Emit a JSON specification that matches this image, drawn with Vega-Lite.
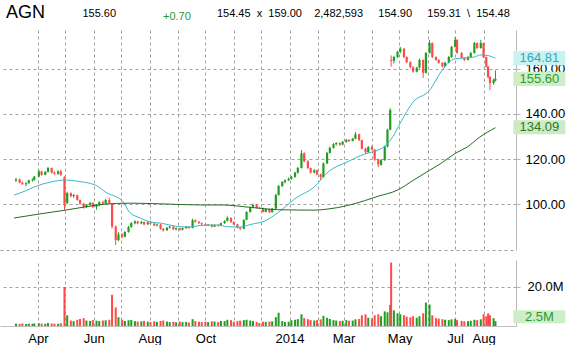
{
  "$schema": "https://vega.github.io/schema/vega-lite/v6.json",
  "background": "white",
  "padding": {"left": 0, "top": 3, "right": 0, "bottom": 0},
  "title": {
    "text": "AGN",
    "subtitle": "\u200b\u00a0\u00a0\u00a0\u00a0\u00a0\u00a0\u00a0\u00a0\u00a0\u00a0\u00a0\u00a0\u00a0\u00a0\u00a0\u00a0\u00a0\u00a0\u00a0\u00a0\u00a0\u00a0\u00a0\u00a0\u00a0155.60\u00a0\u00a0\u00a0\u00a0\u00a0\u00a0\u00a0\u00a0\u00a0\u00a0\u00a0\u00a0\u00a0\u00a0\u00a0\u00a0\u00a0\u00a0\u00a0\u00a0\u00a0\u00a0\u00a0\u00a0\u00a0\u00a0\u00a0\u00a0\u00a0\u00a0\u00a0\u00a0\u00a0154.45\u00a0\u00a0x\u00a0\u00a0159.00\u00a0\u00a0\u00a0\u00a02,482,593\u00a0\u00a0\u00a0\u00a0\u00a0154.90\u00a0\u00a0\u00a0\u00a0\u00a0159.31\u00a0\u00a0\\\u00a0\u00a0154.48",
    "anchor": "start",
    "frame": "group",
    "font": "Liberation Sans",
    "fontSize": 18,
    "fontWeight": "normal",
    "color": "#000000",
    "subtitleFont": "Liberation Sans",
    "subtitleFontSize": 11,
    "subtitleColor": "#000000",
    "subtitlePadding": -13.5,
    "offset": -10.5,
    "dx": 6
  },
  "config": {
    "view": {"stroke": null},
    "axis": {"labelFont": "Liberation Sans", "labelFontSize": 13, "labelColor": "#000000", "gridColor": "#a0a0a0", "gridDash": [3, 3], "gridWidth": 1}
  },
  "datasets": {
    "candles": [
      {"d":"2013-03-08","o":110.5,"h":111.6,"l":109.8,"c":111.0,"v":1.2},
      {"d":"2013-03-12","o":111.0,"h":111.3,"l":109.2,"c":109.5,"v":1.1},
      {"d":"2013-03-15","o":109.5,"h":110.0,"l":108.6,"c":108.8,"v":1.3},
      {"d":"2013-03-19","o":108.8,"h":109.6,"l":107.9,"c":109.3,"v":1.0},
      {"d":"2013-03-22","o":109.3,"h":110.8,"l":109.0,"c":110.5,"v":1.2},
      {"d":"2013-03-26","o":110.5,"h":111.4,"l":110.0,"c":110.8,"v":1.1},
      {"d":"2013-03-28","o":110.8,"h":112.5,"l":110.4,"c":112.2,"v":1.3},
      {"d":"2013-04-02","o":112.2,"h":115.2,"l":112.0,"c":114.5,"v":1.4},
      {"d":"2013-04-05","o":114.5,"h":114.8,"l":112.6,"c":113.0,"v":1.2},
      {"d":"2013-04-09","o":113.0,"h":114.6,"l":112.8,"c":114.3,"v":1.1},
      {"d":"2013-04-12","o":114.3,"h":116.5,"l":114.0,"c":116.0,"v":1.5},
      {"d":"2013-04-16","o":116.0,"h":116.2,"l":113.5,"c":114.0,"v":1.3},
      {"d":"2013-04-19","o":114.0,"h":114.6,"l":113.0,"c":113.4,"v":1.2},
      {"d":"2013-04-23","o":113.4,"h":115.0,"l":113.0,"c":114.5,"v":1.1},
      {"d":"2013-04-26","o":114.5,"h":115.3,"l":112.5,"c":113.0,"v":1.4},
      {"d":"2013-04-30","o":112.0,"h":112.3,"l":97.3,"c":99.5,"v":20.0},
      {"d":"2013-05-03","o":100.5,"h":105.5,"l":100.0,"c":104.8,"v":5.5},
      {"d":"2013-05-07","o":104.8,"h":105.2,"l":103.0,"c":103.5,"v":2.8},
      {"d":"2013-05-10","o":103.5,"h":104.5,"l":102.8,"c":104.0,"v":2.5},
      {"d":"2013-05-14","o":104.0,"h":104.2,"l":101.5,"c":101.8,"v":3.2},
      {"d":"2013-05-17","o":101.8,"h":102.0,"l":99.8,"c":100.2,"v":3.6},
      {"d":"2013-05-21","o":100.2,"h":100.5,"l":98.0,"c":98.7,"v":4.0},
      {"d":"2013-05-24","o":98.7,"h":100.0,"l":98.2,"c":99.8,"v":2.8},
      {"d":"2013-05-28","o":99.8,"h":101.0,"l":99.3,"c":100.5,"v":2.6},
      {"d":"2013-05-31","o":100.5,"h":100.8,"l":98.2,"c":98.8,"v":3.0},
      {"d":"2013-06-04","o":98.8,"h":100.0,"l":97.5,"c":99.6,"v":2.7},
      {"d":"2013-06-07","o":99.6,"h":101.2,"l":99.0,"c":100.8,"v":2.5},
      {"d":"2013-06-11","o":100.8,"h":101.5,"l":99.8,"c":100.2,"v":2.8},
      {"d":"2013-06-14","o":100.2,"h":102.3,"l":100.0,"c":101.8,"v":2.9},
      {"d":"2013-06-18","o":101.8,"h":102.8,"l":100.0,"c":100.4,"v":3.2},
      {"d":"2013-06-21","o":100.0,"h":100.5,"l":89.0,"c":90.0,"v":16.0},
      {"d":"2013-06-25","o":90.0,"h":90.5,"l":81.8,"c":84.0,"v":9.5},
      {"d":"2013-06-28","o":84.0,"h":87.5,"l":83.5,"c":86.5,"v":4.5},
      {"d":"2013-07-02","o":86.5,"h":87.2,"l":84.8,"c":85.5,"v":3.2},
      {"d":"2013-07-05","o":85.5,"h":88.0,"l":85.2,"c":87.6,"v":2.6},
      {"d":"2013-07-09","o":87.6,"h":90.2,"l":87.3,"c":89.8,"v":3.0},
      {"d":"2013-07-12","o":89.8,"h":92.0,"l":89.5,"c":91.5,"v":3.1},
      {"d":"2013-07-16","o":91.5,"h":92.8,"l":91.0,"c":92.3,"v":2.5},
      {"d":"2013-07-19","o":92.3,"h":92.6,"l":91.0,"c":91.4,"v":2.3},
      {"d":"2013-07-23","o":91.4,"h":92.6,"l":91.0,"c":92.0,"v":2.4},
      {"d":"2013-07-26","o":92.0,"h":92.3,"l":90.6,"c":91.0,"v":2.6},
      {"d":"2013-07-30","o":91.0,"h":92.4,"l":90.8,"c":91.8,"v":2.2},
      {"d":"2013-08-02","o":91.8,"h":92.5,"l":91.0,"c":91.3,"v":2.0},
      {"d":"2013-08-06","o":91.3,"h":91.6,"l":90.2,"c":90.5,"v":2.4},
      {"d":"2013-08-09","o":90.5,"h":91.3,"l":90.0,"c":90.9,"v":2.1},
      {"d":"2013-08-13","o":90.9,"h":91.2,"l":88.6,"c":89.0,"v":2.6},
      {"d":"2013-08-16","o":89.0,"h":89.4,"l":87.8,"c":88.4,"v":2.8},
      {"d":"2013-08-20","o":88.4,"h":89.8,"l":88.0,"c":89.5,"v":2.3},
      {"d":"2013-08-23","o":89.5,"h":90.3,"l":89.1,"c":90.0,"v":2.0},
      {"d":"2013-08-27","o":90.0,"h":90.1,"l":88.5,"c":88.8,"v":2.2},
      {"d":"2013-08-30","o":88.8,"h":89.6,"l":88.3,"c":89.3,"v":1.9},
      {"d":"2013-09-03","o":89.3,"h":89.5,"l":88.2,"c":88.6,"v":2.3},
      {"d":"2013-09-06","o":88.6,"h":89.6,"l":88.3,"c":89.3,"v":2.0},
      {"d":"2013-09-10","o":89.3,"h":90.2,"l":89.0,"c":89.9,"v":2.1},
      {"d":"2013-09-13","o":89.9,"h":90.1,"l":89.0,"c":89.4,"v":1.8},
      {"d":"2013-09-17","o":89.4,"h":93.5,"l":89.2,"c":92.8,"v":3.5},
      {"d":"2013-09-20","o":92.8,"h":93.2,"l":91.8,"c":92.1,"v":2.5},
      {"d":"2013-09-24","o":92.1,"h":92.5,"l":91.2,"c":91.5,"v":2.2},
      {"d":"2013-09-27","o":91.5,"h":91.8,"l":90.5,"c":91.0,"v":2.0},
      {"d":"2013-10-01","o":91.0,"h":91.3,"l":90.2,"c":90.6,"v":2.2},
      {"d":"2013-10-04","o":90.6,"h":91.2,"l":90.2,"c":90.9,"v":2.0},
      {"d":"2013-10-08","o":90.9,"h":91.0,"l":89.6,"c":90.0,"v":2.4},
      {"d":"2013-10-11","o":90.0,"h":91.0,"l":89.8,"c":90.7,"v":2.3},
      {"d":"2013-10-15","o":90.7,"h":91.0,"l":90.0,"c":90.4,"v":2.0},
      {"d":"2013-10-18","o":90.4,"h":91.8,"l":90.2,"c":91.5,"v":2.6},
      {"d":"2013-10-22","o":91.5,"h":92.8,"l":91.2,"c":92.5,"v":2.5},
      {"d":"2013-10-25","o":92.5,"h":94.5,"l":92.3,"c":93.9,"v":3.2},
      {"d":"2013-10-29","o":93.9,"h":94.0,"l":91.6,"c":92.0,"v":3.0},
      {"d":"2013-11-01","o":92.0,"h":92.3,"l":90.6,"c":91.0,"v":2.2},
      {"d":"2013-11-05","o":91.0,"h":91.2,"l":89.2,"c":89.5,"v":2.5},
      {"d":"2013-11-08","o":89.5,"h":89.8,"l":88.4,"c":89.0,"v":2.7},
      {"d":"2013-11-12","o":89.0,"h":93.2,"l":88.8,"c":93.0,"v":3.0},
      {"d":"2013-11-15","o":93.0,"h":96.8,"l":92.8,"c":96.5,"v":3.2},
      {"d":"2013-11-19","o":96.5,"h":98.8,"l":96.2,"c":98.5,"v":2.8},
      {"d":"2013-11-22","o":98.5,"h":100.2,"l":98.2,"c":99.6,"v":2.6},
      {"d":"2013-11-26","o":99.6,"h":99.8,"l":98.0,"c":98.3,"v":2.0},
      {"d":"2013-11-29","o":98.3,"h":98.8,"l":97.8,"c":98.2,"v":1.5},
      {"d":"2013-12-03","o":98.2,"h":98.4,"l":96.2,"c":96.5,"v":2.2},
      {"d":"2013-12-06","o":96.5,"h":98.0,"l":96.3,"c":97.8,"v":2.1},
      {"d":"2013-12-10","o":97.8,"h":98.0,"l":96.0,"c":96.4,"v":2.3},
      {"d":"2013-12-13","o":96.4,"h":98.3,"l":96.2,"c":98.0,"v":2.4},
      {"d":"2013-12-17","o":98.0,"h":104.5,"l":97.8,"c":104.0,"v":4.5},
      {"d":"2013-12-20","o":104.0,"h":108.5,"l":103.8,"c":108.0,"v":6.8},
      {"d":"2013-12-24","o":108.0,"h":110.2,"l":107.6,"c":109.8,"v":2.5},
      {"d":"2013-12-27","o":109.8,"h":111.0,"l":109.2,"c":110.6,"v":2.0},
      {"d":"2013-12-31","o":110.6,"h":111.8,"l":110.2,"c":111.2,"v":2.2},
      {"d":"2014-01-03","o":111.2,"h":112.5,"l":110.8,"c":112.0,"v":3.0},
      {"d":"2014-01-07","o":112.0,"h":114.3,"l":111.8,"c":114.0,"v":3.2},
      {"d":"2014-01-10","o":114.0,"h":116.5,"l":113.5,"c":116.0,"v":3.5},
      {"d":"2014-01-14","o":116.0,"h":124.0,"l":115.8,"c":122.5,"v":6.0},
      {"d":"2014-01-17","o":122.5,"h":123.0,"l":118.5,"c":119.0,"v":4.0},
      {"d":"2014-01-21","o":119.0,"h":119.5,"l":115.5,"c":116.0,"v":3.5},
      {"d":"2014-01-24","o":116.0,"h":116.2,"l":113.5,"c":114.0,"v":3.0},
      {"d":"2014-01-28","o":114.0,"h":115.5,"l":113.6,"c":115.0,"v":2.8},
      {"d":"2014-01-31","o":115.0,"h":115.3,"l":112.8,"c":113.2,"v":3.0},
      {"d":"2014-02-04","o":113.2,"h":113.5,"l":110.7,"c":112.0,"v":3.4},
      {"d":"2014-02-07","o":112.0,"h":118.5,"l":111.8,"c":118.0,"v":5.2},
      {"d":"2014-02-11","o":118.0,"h":123.2,"l":117.8,"c":122.7,"v":4.2},
      {"d":"2014-02-14","o":122.7,"h":125.5,"l":122.4,"c":125.0,"v":3.6},
      {"d":"2014-02-18","o":125.0,"h":127.0,"l":124.6,"c":126.6,"v":3.0},
      {"d":"2014-02-21","o":126.6,"h":127.5,"l":126.0,"c":127.1,"v":2.8},
      {"d":"2014-02-25","o":127.1,"h":127.4,"l":125.8,"c":126.4,"v":2.6},
      {"d":"2014-02-28","o":126.4,"h":128.0,"l":126.1,"c":127.6,"v":2.7},
      {"d":"2014-03-04","o":127.6,"h":128.9,"l":127.2,"c":128.5,"v":3.0},
      {"d":"2014-03-07","o":128.5,"h":128.8,"l":127.5,"c":128.0,"v":2.7},
      {"d":"2014-03-11","o":128.0,"h":129.4,"l":127.8,"c":129.0,"v":2.8},
      {"d":"2014-03-14","o":129.0,"h":132.0,"l":128.8,"c":131.0,"v":3.4},
      {"d":"2014-03-18","o":131.0,"h":131.3,"l":128.0,"c":128.4,"v":3.6},
      {"d":"2014-03-21","o":128.4,"h":128.6,"l":124.2,"c":124.6,"v":5.5},
      {"d":"2014-03-25","o":124.6,"h":125.0,"l":122.3,"c":123.0,"v":6.0},
      {"d":"2014-03-28","o":123.0,"h":125.8,"l":122.8,"c":125.3,"v":4.2},
      {"d":"2014-04-01","o":125.3,"h":126.0,"l":123.8,"c":124.2,"v":3.8},
      {"d":"2014-04-04","o":124.2,"h":124.5,"l":119.2,"c":119.8,"v":5.5},
      {"d":"2014-04-08","o":119.8,"h":120.2,"l":116.4,"c":117.5,"v":6.0},
      {"d":"2014-04-11","o":117.5,"h":120.0,"l":117.0,"c":119.5,"v":5.0},
      {"d":"2014-04-15","o":119.5,"h":126.0,"l":119.2,"c":125.5,"v":7.5},
      {"d":"2014-04-18","o":125.5,"h":133.5,"l":125.2,"c":133.0,"v":7.0},
      {"d":"2014-04-21","o":133.0,"h":142.6,"l":132.8,"c":141.8,"v":10.8},
      {"d":"2014-04-22","o":164.0,"h":166.0,"l":161.0,"c":163.6,"v":32.5},
      {"d":"2014-04-25","o":163.6,"h":165.8,"l":162.5,"c":165.3,"v":8.0},
      {"d":"2014-04-29","o":165.3,"h":168.0,"l":164.8,"c":167.6,"v":6.5},
      {"d":"2014-05-02","o":167.6,"h":169.8,"l":167.0,"c":169.0,"v":6.0},
      {"d":"2014-05-06","o":169.0,"h":169.3,"l":164.8,"c":165.3,"v":5.5},
      {"d":"2014-05-09","o":165.3,"h":165.6,"l":162.6,"c":163.0,"v":4.8},
      {"d":"2014-05-13","o":163.0,"h":163.4,"l":160.3,"c":160.8,"v":4.5},
      {"d":"2014-05-16","o":160.8,"h":161.2,"l":158.3,"c":158.8,"v":5.0},
      {"d":"2014-05-20","o":158.8,"h":161.0,"l":158.5,"c":160.6,"v":4.2},
      {"d":"2014-05-23","o":160.6,"h":164.5,"l":160.2,"c":164.0,"v":5.0},
      {"d":"2014-05-27","o":164.0,"h":164.2,"l":156.0,"c":158.3,"v":6.5},
      {"d":"2014-05-30","o":158.3,"h":167.5,"l":158.0,"c":167.1,"v":12.0},
      {"d":"2014-06-03","o":167.1,"h":172.9,"l":166.8,"c":171.5,"v":11.0},
      {"d":"2014-06-06","o":171.5,"h":171.8,"l":164.8,"c":165.3,"v":5.5},
      {"d":"2014-06-10","o":165.3,"h":165.6,"l":163.6,"c":164.0,"v":4.0},
      {"d":"2014-06-13","o":164.0,"h":164.3,"l":162.3,"c":162.7,"v":3.8},
      {"d":"2014-06-17","o":162.7,"h":163.0,"l":160.6,"c":161.2,"v":3.5},
      {"d":"2014-06-20","o":161.2,"h":163.2,"l":160.8,"c":162.8,"v":3.2},
      {"d":"2014-06-24","o":162.8,"h":165.8,"l":162.5,"c":165.3,"v":3.0},
      {"d":"2014-06-27","o":165.3,"h":170.2,"l":165.0,"c":169.8,"v":3.4},
      {"d":"2014-07-01","o":169.8,"h":174.2,"l":169.5,"c":172.9,"v":3.6},
      {"d":"2014-07-03","o":172.9,"h":173.2,"l":166.8,"c":167.1,"v":3.0},
      {"d":"2014-07-08","o":167.1,"h":167.5,"l":164.5,"c":164.9,"v":2.6},
      {"d":"2014-07-11","o":164.9,"h":165.2,"l":163.5,"c":164.0,"v":2.4},
      {"d":"2014-07-15","o":164.0,"h":165.8,"l":163.8,"c":165.3,"v":2.5},
      {"d":"2014-07-18","o":165.3,"h":167.6,"l":165.0,"c":167.1,"v":2.7},
      {"d":"2014-07-22","o":167.1,"h":172.0,"l":166.8,"c":171.5,"v":3.2},
      {"d":"2014-07-25","o":171.5,"h":171.8,"l":168.8,"c":169.3,"v":3.0},
      {"d":"2014-07-29","o":169.3,"h":172.9,"l":169.0,"c":171.5,"v":3.4},
      {"d":"2014-08-01","o":171.5,"h":171.7,"l":164.8,"c":165.3,"v":6.0},
      {"d":"2014-08-04","o":165.3,"h":165.5,"l":160.6,"c":161.0,"v":5.0},
      {"d":"2014-08-06","o":161.0,"h":161.3,"l":155.8,"c":156.4,"v":6.5},
      {"d":"2014-08-08","o":156.4,"h":156.8,"l":150.7,"c":153.8,"v":5.5},
      {"d":"2014-08-12","o":153.8,"h":155.8,"l":153.0,"c":155.1,"v":4.0},
      {"d":"2014-08-14","o":154.9,"h":159.31,"l":154.48,"c":155.6,"v":2.48}
    ],
    "ma50": [
      {"d":"2013-03-06","m":104.0},{"d":"2013-03-18","m":105.8},{"d":"2013-03-28","m":107.6},
      {"d":"2013-04-15","m":109.8},{"d":"2013-05-02","m":110.7},{"d":"2013-05-13","m":110.2},
      {"d":"2013-06-03","m":108.4},{"d":"2013-06-14","m":105.3},{"d":"2013-07-03","m":101.0},
      {"d":"2013-07-10","m":96.4},{"d":"2013-07-22","m":93.8},{"d":"2013-08-02","m":92.0},
      {"d":"2013-08-14","m":91.5},{"d":"2013-08-29","m":90.2},{"d":"2013-09-13","m":89.8},
      {"d":"2013-09-26","m":90.5},{"d":"2013-10-15","m":90.7},{"d":"2013-10-24","m":90.0},
      {"d":"2013-11-08","m":89.8},{"d":"2013-11-20","m":91.0},{"d":"2013-12-05","m":92.5},
      {"d":"2013-12-20","m":96.4},{"d":"2014-01-08","m":102.7},{"d":"2014-01-28","m":107.6},
      {"d":"2014-02-12","m":114.2},{"d":"2014-03-05","m":118.7},{"d":"2014-03-24","m":122.2},
      {"d":"2014-04-08","m":124.0},{"d":"2014-04-16","m":126.0},{"d":"2014-04-24","m":130.0},
      {"d":"2014-05-02","m":136.0},{"d":"2014-05-16","m":145.3},{"d":"2014-06-03","m":150.5},
      {"d":"2014-06-16","m":159.0},{"d":"2014-06-23","m":162.5},{"d":"2014-07-01","m":164.5},
      {"d":"2014-07-11","m":164.9},{"d":"2014-07-22","m":165.3},{"d":"2014-07-28","m":166.2},
      {"d":"2014-08-05","m":166.0},{"d":"2014-08-14","m":164.8}
    ],
    "ma200": [
      {"d":"2013-03-06","m":93.8},{"d":"2013-04-01","m":95.5},{"d":"2013-05-01","m":97.3},
      {"d":"2013-05-22","m":98.7},{"d":"2013-06-14","m":100.0},{"d":"2013-07-10","m":100.4},
      {"d":"2013-08-05","m":100.2},{"d":"2013-09-26","m":99.6},{"d":"2013-10-19","m":99.6},
      {"d":"2013-11-20","m":98.5},{"d":"2013-12-20","m":97.5},{"d":"2014-01-28","m":97.3},
      {"d":"2014-02-12","m":97.8},{"d":"2014-03-05","m":99.3},{"d":"2014-03-24","m":101.5},
      {"d":"2014-04-08","m":103.5},{"d":"2014-04-29","m":106.2},{"d":"2014-05-16","m":110.5},
      {"d":"2014-06-03","m":115.0},{"d":"2014-06-16","m":118.2},{"d":"2014-07-01","m":122.5},
      {"d":"2014-07-14","m":125.3},{"d":"2014-07-28","m":129.8},{"d":"2014-08-14","m":133.9}
    ],
    "ptags": [
      {"k":"ma50","v":164.81,"t":"164.81"},
      {"k":"last","v":155.60,"t":"155.60"},
      {"k":"ma200","v":134.09,"t":"134.09"}
    ],
    "vtags": [
      {"k":"vol","v":2.48,"t":"2.5M"}
    ]
  },
  "spacing": 10,
  "bounds": "flush",
  "vconcat": [
    {
      "width": 516,
      "height": 220,
      "title": {"text": "+0.70", "anchor": "start", "frame": "group", "font": "Liberation Sans", "fontSize": 11, "fontWeight": "normal", "color": "#2e9a2e", "dx": 163, "offset": 8},
      "layer": [
        {
          "data": {"name": "candles"},
          "mark": {"type": "rule", "strokeWidth": 1},
          "encoding": {
            "x": {"field": "d", "type": "temporal",
              "scale": {"type": "utc", "domain": [{"year":2013,"month":2,"date":24,"utc":true},{"year":2014,"month":8,"date":31,"utc":true}]},
              "axis": {"title": null, "orient": "bottom", "labels": false, "ticks": false, "grid": true, "tickCount": 40, "domain": true, "domainColor": "#a0a0a0", "domainDash": [3, 3],
                "values": [{"year":2013,"month":4,"date":1,"utc":true},{"year":2013,"month":5,"date":1,"utc":true},{"year":2013,"month":6,"date":1,"utc":true},{"year":2013,"month":7,"date":1,"utc":true},{"year":2013,"month":8,"date":1,"utc":true},{"year":2013,"month":9,"date":1,"utc":true},{"year":2013,"month":10,"date":1,"utc":true},{"year":2013,"month":11,"date":1,"utc":true},{"year":2013,"month":12,"date":1,"utc":true},{"year":2014,"month":1,"date":1,"utc":true},{"year":2014,"month":2,"date":1,"utc":true},{"year":2014,"month":3,"date":1,"utc":true},{"year":2014,"month":4,"date":1,"utc":true},{"year":2014,"month":5,"date":1,"utc":true},{"year":2014,"month":6,"date":1,"utc":true},{"year":2014,"month":7,"date":1,"utc":true},{"year":2014,"month":8,"date":1,"utc":true}]}},
            "y": {"field": "l", "type": "quantitative",
              "scale": {"domain": [79.6, 177.3], "zero": false, "nice": false},
              "axis": {"title": null, "orient": "right", "values": [100, 120, 140, 160], "format": ".2f", "grid": true, "domainColor": "#b8b8b8", "tickColor": "#b8b8b8", "tickSize": 4, "labelPadding": 5}},
            "y2": {"field": "h"},
            "color": {"condition": {"test": "datum.c >= datum.o", "value": "#1f9e1f"}, "value": "#ff4a4a"}
          }
        },
        {
          "data": {"name": "candles"},
          "mark": {"type": "bar", "width": 2.2},
          "encoding": {
            "x": {"field": "d", "type": "temporal"},
            "y": {"field": "o", "type": "quantitative"},
            "y2": {"field": "c"},
            "color": {"condition": {"test": "datum.c >= datum.o", "value": "#1f9e1f"}, "value": "#ff4a4a"}
          }
        },
        {
          "data": {"name": "ma50"},
          "mark": {"type": "line", "strokeWidth": 1, "color": "#3cb6c8", "interpolate": "monotone"},
          "encoding": {"x": {"field": "d", "type": "temporal"}, "y": {"field": "m", "type": "quantitative"}}
        },
        {
          "data": {"name": "ma200"},
          "mark": {"type": "line", "strokeWidth": 1, "color": "#236b23", "interpolate": "monotone"},
          "encoding": {"x": {"field": "d", "type": "temporal"}, "y": {"field": "m", "type": "quantitative"}}
        },
        {
          "data": {"name": "ptags"},
          "mark": {"type": "point", "shape": "M-1,-0.27H1V0.27H-1Z", "filled": true, "size": 2704, "opacity": 1, "strokeWidth": 0},
          "encoding": {
            "x": {"datum": {"year":2014,"month":10,"date":1,"utc":true}, "type": "temporal"},
            "y": {"field": "v", "type": "quantitative"},
            "fill": {"field": "k", "type": "nominal", "scale": {"domain": ["ma50", "last", "ma200"], "range": ["#c8f3f3", "#cdeec6", "#cdeac6"]}, "legend": null}
          }
        },
        {
          "data": {"name": "ptags"},
          "mark": {"type": "text", "font": "Liberation Sans", "fontSize": 13, "align": "center", "baseline": "middle"},
          "encoding": {
            "x": {"datum": {"year":2014,"month":10,"date":1,"utc":true}, "type": "temporal"},
            "y": {"field": "v", "type": "quantitative"},
            "text": {"field": "t"},
            "color": {"field": "k", "type": "nominal", "scale": {"domain": ["ma50", "last", "ma200"], "range": ["#35a9bb", "#2f9a2f", "#2a7a2a"]}, "legend": null}
          }
        }
      ]
    },
    {
      "width": 516,
      "height": 66,
      "resolve": {"axis": {"x": "independent"}},
      "layer": [
        {
          "data": {"name": "candles"},
          "mark": {"type": "bar", "width": 2},
          "encoding": {
            "x": {"field": "d", "type": "temporal",
              "scale": {"type": "utc", "domain": [{"year":2013,"month":2,"date":24,"utc":true},{"year":2014,"month":8,"date":31,"utc":true}]},
              "axis": {"title": null, "orient": "bottom", "grid": false, "ticks": false, "tickSize": 0, "tickCount": 40, "domain": true, "domainColor": "#c0c0c0", "labelPadding": 6, "labelOverlap": false, "labelFlush": false, "labelBound": false, "labelSeparation": 0,
                "labelExpr": "utcmonth(datum.value) == 0 ? utcFormat(datum.value, '%Y') : utcFormat(datum.value, '%b')",
                "values": [{"year":2013,"month":4,"date":1,"utc":true},{"year":2013,"month":6,"date":1,"utc":true},{"year":2013,"month":8,"date":1,"utc":true},{"year":2013,"month":10,"date":1,"utc":true},{"year":2014,"month":1,"date":1,"utc":true},{"year":2014,"month":3,"date":1,"utc":true},{"year":2014,"month":5,"date":1,"hours":6,"utc":true},{"year":2014,"month":7,"date":1,"utc":true},{"year":2014,"month":8,"date":1,"utc":true}]}},
            "y": {"field": "v", "type": "quantitative",
              "scale": {"domain": [0, 33.8], "nice": false},
              "axis": {"title": null, "orient": "right", "values": [20], "labelExpr": "format(datum.value, '.1f') + 'M'", "grid": true, "domainColor": "#b8b8b8", "tickColor": "#b8b8b8", "tickSize": 4, "labelPadding": 7}},
            "color": {"condition": {"test": "datum.c >= datum.o", "value": "#1f9e1f"}, "value": "#ff4a4a"}
          }
        },
        {
          "data": {"name": "vtags"},
          "mark": {"type": "point", "shape": "M-1,-0.25H1V0.25H-1Z", "filled": true, "size": 2704, "opacity": 1, "strokeWidth": 0, "yOffset": -4.5, "fill": "#cdeec6"},
          "encoding": {
            "x": {"datum": {"year":2014,"month":10,"date":1,"utc":true}, "type": "temporal",
              "axis": {"title": null, "orient": "top", "labels": false, "ticks": false, "domain": false, "grid": true, "tickCount": 40,
                "values": [{"year":2013,"month":4,"date":1,"utc":true},{"year":2013,"month":5,"date":1,"utc":true},{"year":2013,"month":6,"date":1,"utc":true},{"year":2013,"month":7,"date":1,"utc":true},{"year":2013,"month":8,"date":1,"utc":true},{"year":2013,"month":9,"date":1,"utc":true},{"year":2013,"month":10,"date":1,"utc":true},{"year":2013,"month":11,"date":1,"utc":true},{"year":2013,"month":12,"date":1,"utc":true},{"year":2014,"month":1,"date":1,"utc":true},{"year":2014,"month":2,"date":1,"utc":true},{"year":2014,"month":3,"date":1,"utc":true},{"year":2014,"month":4,"date":1,"utc":true},{"year":2014,"month":5,"date":1,"utc":true},{"year":2014,"month":6,"date":1,"utc":true},{"year":2014,"month":7,"date":1,"utc":true},{"year":2014,"month":8,"date":1,"utc":true}]}},
            "y": {"field": "v", "type": "quantitative"}
          }
        },
        {
          "data": {"name": "vtags"},
          "mark": {"type": "text", "font": "Liberation Sans", "fontSize": 13, "align": "center", "baseline": "middle", "yOffset": -4.5, "color": "#2f9a2f"},
          "encoding": {
            "x": {"datum": {"year":2014,"month":10,"date":1,"utc":true}, "type": "temporal", "axis": null},
            "y": {"field": "v", "type": "quantitative"},
            "text": {"field": "t"}
          }
        }
      ]
    }
  ]
}
